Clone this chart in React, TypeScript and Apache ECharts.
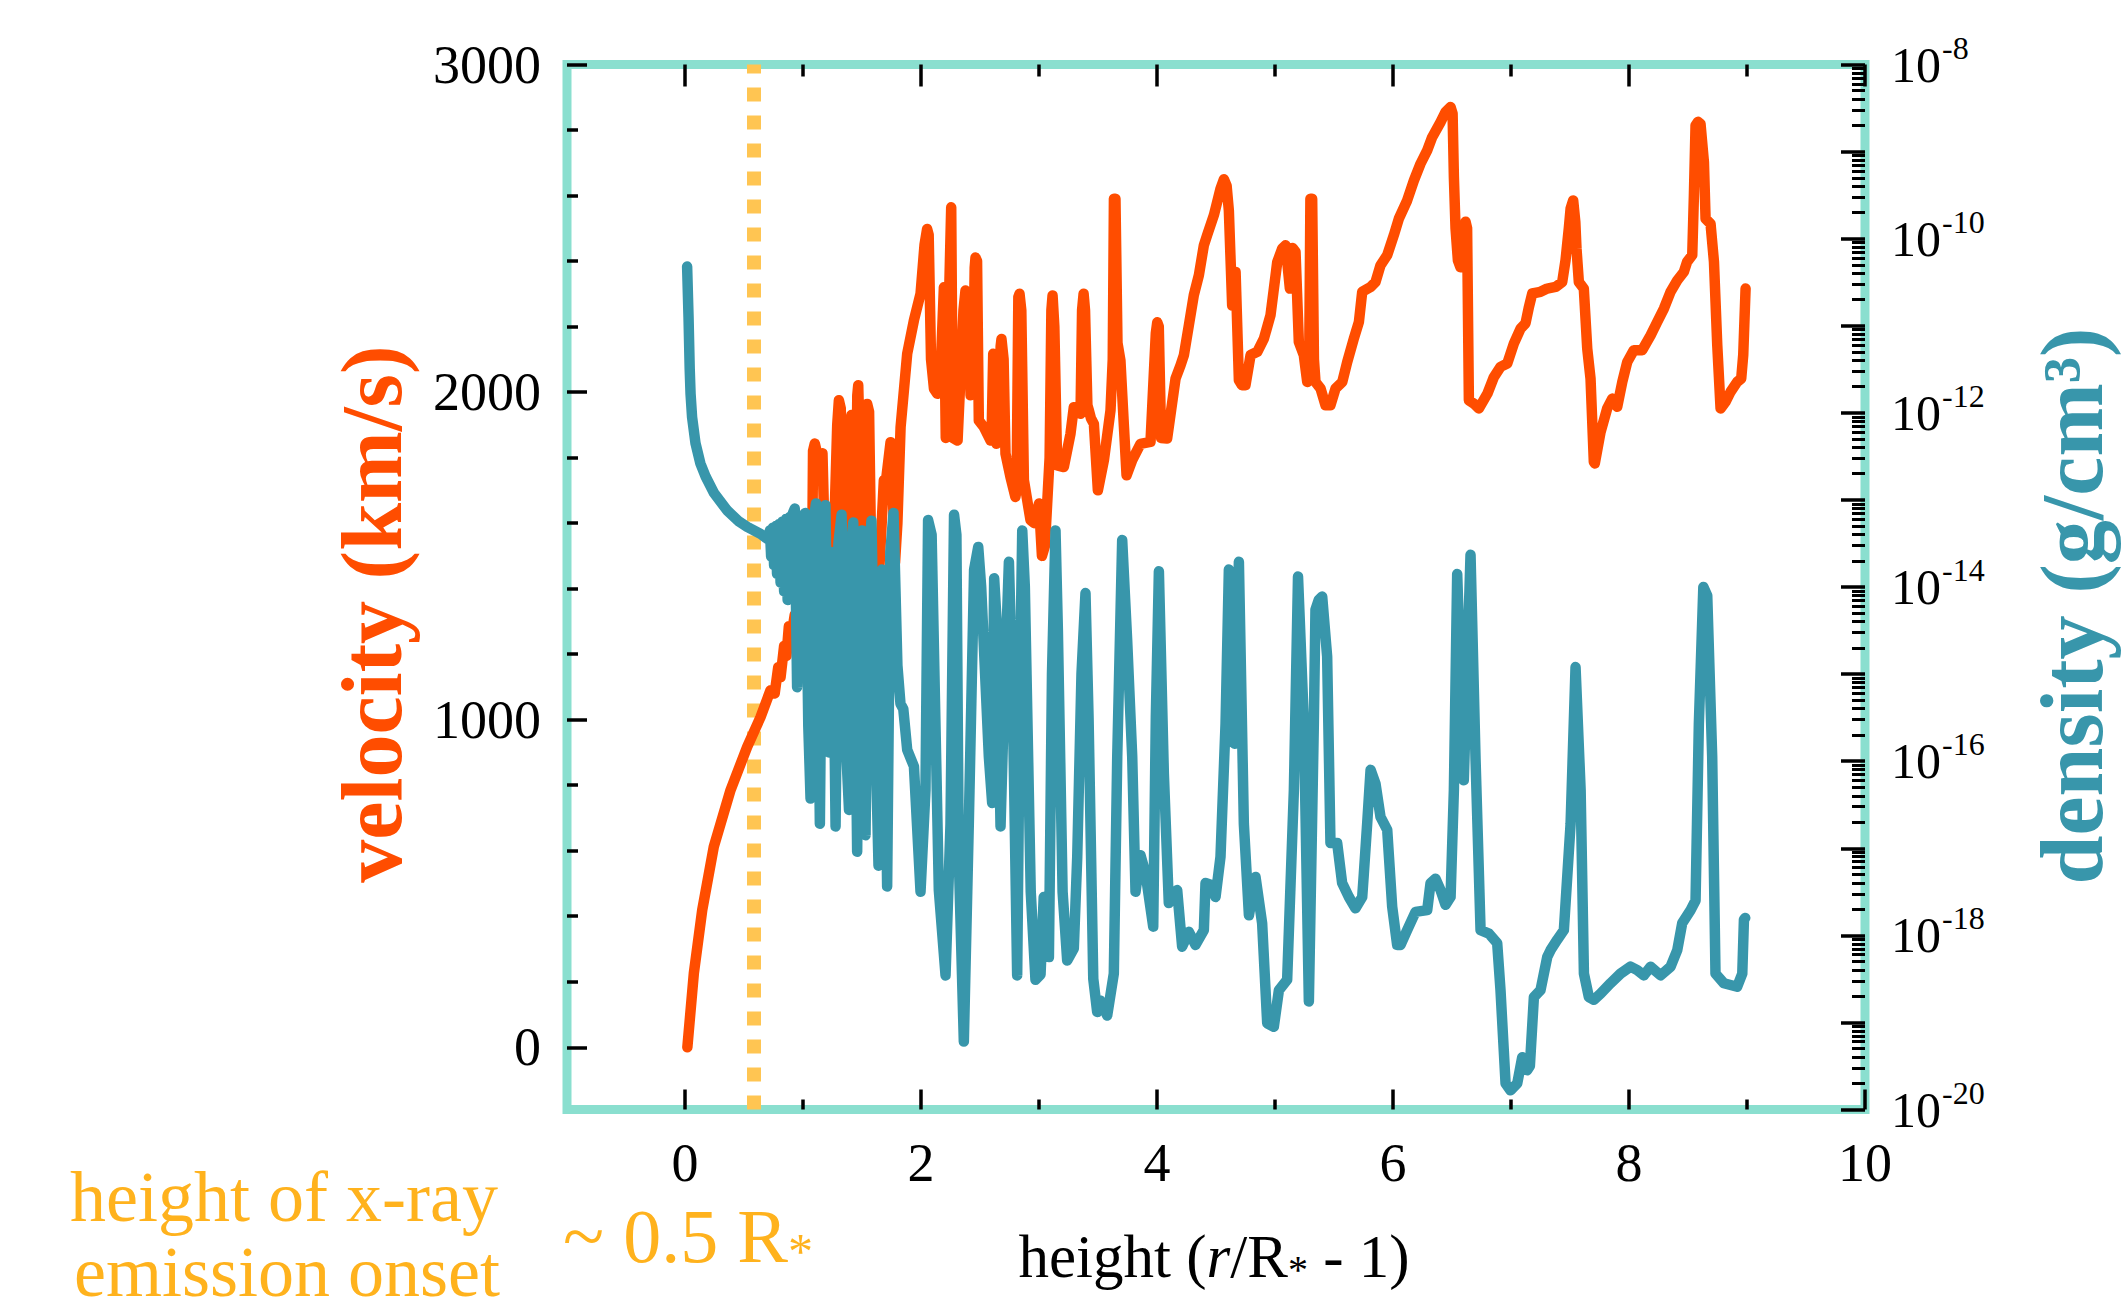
import React, { useEffect, useRef } from "react";
import * as echarts from "echarts";

// ---------- data ----------
// velocity curve: height (r/R* - 1) and velocity in km/s
const velocityHeight = [
  0.02, 0.075, 0.146, 0.244, 0.386, 0.527, 0.64, 0.725, 0.76, 0.79, 0.81, 0.84, 0.86, 0.88, 0.9, 0.93, 0.98, 1.04,
  1.075, 1.085, 1.1, 1.14, 1.165, 1.18, 1.2, 1.25, 1.29, 1.304, 1.32, 1.34, 1.38, 1.4, 1.41, 1.43, 1.45, 1.46, 1.468,
  1.49, 1.51, 1.53, 1.544, 1.56, 1.58, 1.63, 1.66, 1.685, 1.7, 1.742, 1.76, 1.78, 1.8, 1.827, 1.883, 1.94, 1.996,
  2.03, 2.052, 2.065, 2.085, 2.11, 2.137, 2.16, 2.194, 2.21, 2.245, 2.256, 2.27, 2.31, 2.36, 2.377, 2.4, 2.42, 2.44,
  2.455, 2.462, 2.475, 2.49, 2.533, 2.59, 2.6, 2.612, 2.625, 2.64, 2.66, 2.675, 2.682, 2.7, 2.716, 2.758, 2.8, 2.81,
  2.825, 2.835, 2.85, 2.872, 2.928, 2.96, 3.0, 3.025, 3.05, 3.09, 3.105, 3.115, 3.13, 3.154, 3.21, 3.267, 3.295,
  3.33, 3.352, 3.365, 3.378, 3.39, 3.41, 3.423, 3.44, 3.465, 3.499, 3.55, 3.606, 3.625, 3.635, 3.648, 3.665, 3.69,
  3.72, 3.742, 3.79, 3.86, 3.945, 3.99, 4.002, 4.015, 4.035, 4.086, 4.157, 4.2, 4.228, 4.27, 4.312, 4.355, 4.397,
  4.425, 4.482, 4.538, 4.567, 4.59, 4.609, 4.637, 4.666, 4.694, 4.72, 4.75, 4.793, 4.85, 4.906, 4.962, 5.019, 5.061,
  5.09, 5.126, 5.15, 5.174, 5.202, 5.244, 5.273, 5.29, 5.3, 5.315, 5.33, 5.343, 5.386, 5.428, 5.47, 5.513, 5.57,
  5.612, 5.668, 5.711, 5.739, 5.81, 5.852, 5.894, 5.951, 6.007, 6.05, 6.12, 6.177, 6.233, 6.29, 6.332, 6.403, 6.445,
  6.488, 6.505, 6.516, 6.53, 6.55, 6.572, 6.6, 6.615, 6.628, 6.643, 6.685, 6.728, 6.8, 6.855, 6.911, 6.968, 7.024,
  7.081, 7.123, 7.152, 7.18, 7.25, 7.307, 7.378, 7.434, 7.462, 7.49, 7.505, 7.527, 7.545, 7.555, 7.575, 7.617,
  7.646, 7.674, 7.702, 7.71, 7.759, 7.815, 7.858, 7.9, 7.943, 7.985, 8.041, 8.112, 8.183, 8.239, 8.296, 8.352,
  8.409, 8.465, 8.493, 8.536, 8.55, 8.564, 8.585, 8.606, 8.635, 8.649, 8.691, 8.72, 8.748, 8.776, 8.818, 8.861,
  8.917, 8.951, 8.968, 8.988,
];
const velocityKms = [
  0, 226, 419, 612, 785, 917, 1008, 1090, 1080, 1160, 1130, 1225, 1195, 1285, 1250, 1320, 1300, 1350,
  1360, 1820, 1843, 1780, 1813, 1600, 1350, 1400, 1900, 1975, 1950, 1400, 1450, 1900, 1930, 1920, 1600, 1990, 2021,
  1700, 1400, 1600, 1964, 1940, 1450, 1350, 1550, 1731, 1720, 1847, 1700, 1480, 1600, 1893, 2117, 2219, 2300,
  2450, 2498, 2480, 2100, 2010, 1995, 2010, 2320, 1860, 2400, 2564, 1860, 1852, 2250, 2310, 2300, 1990, 2000,
  2380, 2411, 2400, 1913, 1893, 1852, 1900, 2117, 2110, 1842, 1850, 2140, 2162, 2100, 1812, 1741, 1680, 1700,
  2290, 2300, 2250, 1731, 1609, 1600, 1660, 1500, 1530, 1800, 2250, 2295, 2200, 1776, 1771, 1873, 1954,
  1940, 1934, 2250, 2300, 2250, 1960, 1944, 1920, 1903, 1700, 1792, 1944, 2100, 2590, 2590, 2150, 2097,
  1893, 1746, 1792, 1842, 1848, 2180, 2213, 2200, 1860, 1858, 2041, 2082, 2113, 2204, 2296, 2357, 2448,
  2479, 2540, 2621, 2650, 2630, 2554, 2264, 2367, 2036, 2021, 2021, 2113, 2123, 2163, 2235, 2397, 2438,
  2448, 2316, 2440, 2428, 2153, 2113, 2031, 2100, 2590, 2590, 2100, 2031, 2011, 1960, 1960, 2011, 2031,
  2092, 2163, 2214, 2306, 2321, 2336, 2387, 2418, 2479, 2530, 2585, 2646, 2697, 2738, 2778, 2824, 2855,
  2870, 2850, 2656, 2500, 2402, 2381, 2450, 2520, 2500, 1975, 1965, 1950, 1995, 2046, 2077, 2087, 2148,
  2194, 2210, 2260, 2301, 2306, 2316, 2321, 2336, 2402, 2500, 2560, 2585, 2520, 2438, 2336, 2316,
  2133, 2041, 1787, 1782, 1878, 1950, 1980, 1955, 2031, 2092, 2128, 2128, 2173, 2214, 2255, 2306,
  2341, 2367, 2398, 2418, 2600, 2814, 2825, 2819, 2702, 2529, 2514, 2398, 2143, 1950, 1970, 2001,
  2031, 2041, 2113, 2316,
];

// density curve: height (r/R* - 1) and log10 of density in g/cm^3
const densityHeight = [
  0.018, 0.03, 0.04, 0.047, 0.06, 0.089, 0.13, 0.174, 0.245, 0.357, 0.45, 0.527, 0.64, 0.7, 0.72, 0.73, 0.745,
  0.755, 0.77, 0.78, 0.795, 0.81, 0.825, 0.84, 0.855, 0.87, 0.885, 0.9, 0.915, 0.93, 0.95, 0.985, 1.02, 1.045,
  1.064, 1.085, 1.11, 1.13, 1.143, 1.165, 1.19, 1.22, 1.25, 1.276, 1.3, 1.327, 1.36, 1.39, 1.41, 1.426, 1.445,
  1.459, 1.48, 1.5, 1.515, 1.53, 1.555, 1.58, 1.61, 1.64, 1.67, 1.69, 1.713, 1.74, 1.767, 1.8, 1.826, 1.85,
  1.883, 1.94, 1.996, 2.038, 2.06, 2.09, 2.151, 2.208, 2.25, 2.28, 2.3, 2.32, 2.363, 2.405, 2.45, 2.485, 2.51,
  2.575, 2.603, 2.62, 2.645, 2.674, 2.7, 2.745, 2.78, 2.815, 2.84, 2.858, 2.88, 2.93, 2.97, 3.013, 3.04, 3.084,
  3.11, 3.14, 3.16, 3.2, 3.239, 3.295, 3.324, 3.36, 3.394, 3.42, 3.46, 3.493, 3.52, 3.578, 3.634, 3.663, 3.705,
  3.747, 3.79, 3.818, 3.86, 3.903, 3.968, 3.99, 4.016, 4.058, 4.1, 4.171, 4.213, 4.27, 4.326, 4.397, 4.411,
  4.454, 4.496, 4.538, 4.581, 4.609, 4.657, 4.694, 4.736, 4.779, 4.835, 4.891, 4.934, 4.99, 5.033, 5.103, 5.16,
  5.195, 5.245, 5.287, 5.329, 5.343, 5.37, 5.4, 5.442, 5.47, 5.527, 5.569, 5.626, 5.682, 5.739, 5.753, 5.781,
  5.81, 5.852, 5.894, 5.951, 5.993, 6.035, 6.064, 6.12, 6.191, 6.29, 6.318, 6.36, 6.403, 6.445, 6.488, 6.516,
  6.544, 6.6, 6.657, 6.7, 6.742, 6.813, 6.883, 6.911, 6.954, 6.996, 7.053, 7.095, 7.137, 7.16, 7.194, 7.25,
  7.307, 7.335, 7.392, 7.448, 7.505, 7.547, 7.59, 7.618, 7.66, 7.702, 7.759, 7.844, 7.928, 8.013, 8.07, 8.126,
  8.183, 8.268, 8.352, 8.409, 8.451, 8.522, 8.564, 8.592, 8.63, 8.663, 8.705, 8.733, 8.804, 8.917, 8.96, 8.974,
  8.985,
];
const densityLog10 = [
  -10.32, -10.9, -11.5, -11.78, -12.05, -12.35, -12.58, -12.73, -12.92, -13.12, -13.24, -13.31, -13.39, -13.45,
  -13.35, -13.65, -13.32, -13.75, -13.3, -13.85, -13.28, -13.95, -13.25, -14.05, -13.22, -14.15, -13.2, -14.1,
  -13.15, -13.1, -15.15, -13.2, -13.15, -15.6, -16.43, -13.3, -13.04, -15.2, -16.72, -13.4, -13.06, -15.9,
  -13.6, -16.75, -13.5, -13.17, -15.7, -16.56, -13.5, -13.26, -15.3, -17.04, -13.6, -13.35, -15.8, -16.85,
  -13.7, -13.24, -15.5, -17.2, -13.8, -15.0, -17.44, -13.6, -13.15, -14.9, -15.34, -15.4,
  -15.87, -16.06, -17.5, -16.33, -13.23, -13.4, -17.48, -18.46, -16.72, -13.17, -13.4, -17.1, -19.22, -16.72,
  -13.8, -13.54, -14.0, -15.95, -16.48, -13.9, -14.5, -16.75, -15.5, -13.71, -15.5, -18.46, -15.0, -13.35,
  -14.0, -17.5, -18.51, -18.45, -17.56, -18.25, -15.0, -13.35, -14.5, -17.5, -18.29, -18.15, -17.1, -15.0,
  -14.07, -15.5, -18.5, -18.88, -18.75, -18.92, -18.44, -15.95, -13.46, -14.61, -15.95, -17.5, -17.08, -17.29,
  -17.9, -15.5, -13.82, -16.14, -17.63, -17.48, -18.13, -17.96, -18.11, -17.94, -17.4, -17.42, -17.56, -17.1,
  -15.57, -13.8, -15.8, -13.71, -16.72, -17.77, -17.33, -17.86, -19.01, -19.05, -18.63, -18.51, -16.33, -13.88,
  -15.57, -18.76, -15.57, -14.26, -14.15, -14.11, -14.8, -16.94, -16.94, -17.4, -17.56, -17.69, -17.56, -17.29,
  -16.72, -16.1, -16.26, -16.64, -16.79, -17.67, -18.11, -18.11, -17.94, -17.73, -17.71, -17.4, -17.35, -17.48,
  -17.65, -17.56, -16.33, -13.85, -16.22, -13.63, -16.0, -17.94, -17.98, -18.09, -18.63, -19.7, -19.78, -19.7,
  -19.4, -19.55, -19.5, -18.71, -18.63, -18.25, -18.17, -18.05, -17.94, -16.72, -14.92, -16.33, -18.44, -18.71,
  -18.74, -18.67, -18.55, -18.44, -18.36, -18.4, -18.46, -18.36, -18.46, -18.36, -18.17, -17.86, -17.71, -17.6,
  -15.57, -14.0, -14.1, -15.95, -18.44, -18.55, -18.59, -18.44, -17.82, -17.8,
];

// height of the x-ray emission onset (dotted vertical line)
const xrayOnsetHeight = 0.58;

// tick values
const heightMajorTicks = [0, 2, 4, 6, 8, 10];
const heightMinorTicks = [1, 3, 5, 7, 9];
const velocityMajorTicks = [0, 1000, 2000, 3000];
const velocityMinorTicks = [200, 400, 600, 800, 1200, 1400, 1600, 1800, 2200, 2400, 2600, 2800];
const densityDecadeTicks = [-20, -19, -18, -17, -16, -15, -14, -13, -12, -11, -10, -9, -8];
const densityLabelExponents = [-20, -18, -16, -14, -12, -10, -8];
const densityMinorMantissas = [2, 3, 4, 5, 6, 7, 8, 9];

// ---------- styling ----------
const FONT = '"Liberation Serif", "Times New Roman", serif';
const FRAME = "#8adfcf";
const VEL_COLOR = "#ff4d00";
const DEN_COLOR = "#3896ab";
const ONSET_COLOR = "#ffc552";
const NOTE_COLOR = "#ffb21d";
const TICK = { color: "#000", width: 3.5 };
const NO_LINE = { show: false, onZero: false };

function xAxisDef(position: string, values: number[], length: number, labels: boolean) {
  return {
    type: "value",
    min: -1,
    max: 10,
    position,
    axisLine: NO_LINE,
    splitLine: { show: false },
    axisTick: { show: true, inside: true, length, lineStyle: TICK, customValues: values },
    axisLabel: labels
      ? {
          show: true,
          customValues: values,
          margin: 26,
          fontSize: 54,
          fontFamily: FONT,
          color: "#000",
          formatter: (v: number) => String(v),
        }
      : { show: false },
  };
}

function buildOption() {
  const densityMinor: number[] = [];
  for (let n = -20; n < -8; n++) {
    for (const k of densityMinorMantissas) densityMinor.push(n + Math.log10(k));
  }
  const velocityData = velocityHeight.map((h, i) => [h, velocityKms[i]]);
  const densityData = densityHeight.map((h, i) => [h, densityLog10[i]]);

  return {
    animation: false,
    backgroundColor: "#ffffff",
    grid: {
      left: 567,
      right: 256,
      top: 64.5,
      bottom: 202.5,
      show: true,
      borderColor: FRAME,
      borderWidth: 9,
      backgroundColor: "rgba(0,0,0,0)",
    },
    xAxis: [
      xAxisDef("bottom", heightMajorTicks, 20, true),
      xAxisDef("bottom", heightMinorTicks, 10, false),
      xAxisDef("top", heightMajorTicks, 22, false),
      xAxisDef("top", heightMinorTicks, 12, false),
    ],
    yAxis: [
      {
        type: "value",
        min: -190,
        max: 3000,
        position: "left",
        axisLine: NO_LINE,
        splitLine: { show: false },
        axisTick: { show: true, inside: true, length: 20, lineStyle: TICK, customValues: velocityMajorTicks },
        axisLabel: {
          show: true,
          customValues: velocityMajorTicks,
          margin: 26,
          fontSize: 54,
          fontFamily: FONT,
          color: "#000",
          formatter: (v: number) => String(v),
        },
      },
      {
        type: "value",
        min: -190,
        max: 3000,
        position: "left",
        axisLine: NO_LINE,
        splitLine: { show: false },
        axisTick: { show: true, inside: true, length: 11, lineStyle: TICK, customValues: velocityMinorTicks },
        axisLabel: { show: false },
      },
      {
        type: "value",
        min: -20,
        max: -8,
        position: "right",
        axisLine: NO_LINE,
        splitLine: { show: false },
        axisTick: { show: true, inside: true, length: 24, lineStyle: TICK, customValues: densityDecadeTicks },
        axisLabel: {
          show: true,
          customValues: densityLabelExponents,
          margin: 26,
          color: "#000",
          formatter: (v: number) => `{b|10}{s|${Math.round(v)}}`,
          rich: {
            b: { fontSize: 50, fontFamily: FONT, color: "#000" },
            s: { fontSize: 32, fontFamily: FONT, color: "#000", padding: [0, 0, 34, 1] },
          },
        },
      },
      {
        type: "value",
        min: -20,
        max: -8,
        position: "right",
        axisLine: NO_LINE,
        splitLine: { show: false },
        axisTick: {
          show: true,
          inside: true,
          length: 13,
          lineStyle: { color: "#000", width: 3 },
          customValues: densityMinor,
        },
        axisLabel: { show: false },
      },
    ],
    series: [
      {
        type: "line",
        name: "velocity",
        xAxisIndex: 0,
        yAxisIndex: 0,
        data: velocityData,
        showSymbol: false,
        symbol: "none",
        z: 3,
        lineStyle: { color: VEL_COLOR, width: 10.5, cap: "round", join: "round" },
        markLine: {
          silent: true,
          z: 1,
          symbol: ["none", "none"],
          label: { show: false },
          lineStyle: { color: ONSET_COLOR, width: 14, type: [14, 14], cap: "butt" },
          data: [{ xAxis: xrayOnsetHeight }],
        },
      },
      {
        type: "line",
        name: "density",
        xAxisIndex: 0,
        yAxisIndex: 2,
        data: densityData,
        showSymbol: false,
        symbol: "none",
        z: 4,
        lineStyle: { color: DEN_COLOR, width: 10.5, cap: "round", join: "round" },
      },
    ],
    graphic: [
      {
        type: "text",
        x: 372,
        y: 614,
        rotation: Math.PI / 2,
        style: {
          text: "velocity (km/s)",
          font: `bold 86px ${FONT}`,
          fill: VEL_COLOR,
          align: "center",
          verticalAlign: "middle",
        },
      },
      {
        type: "text",
        x: 2072,
        y: 606,
        rotation: Math.PI / 2,
        style: {
          text: "density (g/cm³)",
          font: `bold 88px ${FONT}`,
          fill: DEN_COLOR,
          align: "center",
          verticalAlign: "middle",
        },
      },
      {
        type: "text",
        x: 1214,
        y: 1256,
        style: {
          text: "{a|height (}{i|r}{a|/R}{s|*}{a| - 1)}",
          align: "center",
          verticalAlign: "middle",
          rich: {
            a: { fontSize: 61, fontFamily: FONT, fill: "#000" },
            i: { fontSize: 61, fontFamily: FONT, fontStyle: "italic", fill: "#000" },
            s: { fontSize: 40, fontFamily: FONT, fill: "#000", padding: [26, 0, 0, 0] },
          },
        },
      },
      {
        type: "text",
        x: 284,
        y: 1197,
        style: {
          text: "height of x-ray",
          font: `72px ${FONT}`,
          fill: NOTE_COLOR,
          align: "center",
          verticalAlign: "middle",
        },
      },
      {
        type: "text",
        x: 287,
        y: 1272,
        style: {
          text: "emission onset",
          font: `72px ${FONT}`,
          fill: NOTE_COLOR,
          align: "center",
          verticalAlign: "middle",
        },
      },
      {
        type: "text",
        x: 688,
        y: 1236,
        style: {
          text: "{a|~ 0.5 R}{s|*}",
          align: "center",
          verticalAlign: "middle",
          rich: {
            a: { fontSize: 76, fontFamily: FONT, fill: NOTE_COLOR },
            s: { fontSize: 50, fontFamily: FONT, fill: NOTE_COLOR, padding: [30, 0, 0, 0] },
          },
        },
      },
    ],
  };
}

export default function App() {
  const ref = useRef<HTMLDivElement>(null);
  useEffect(() => {
    if (!ref.current) return;
    const chart = echarts.init(ref.current, null, { renderer: "svg" });
    chart.setOption(buildOption() as any);
    return () => chart.dispose();
  }, []);
  return (
    <div
      ref={ref}
      style={{ position: "absolute", left: 0, top: 0, width: 2121, height: 1312, background: "#fff" }}
    />
  );
}
